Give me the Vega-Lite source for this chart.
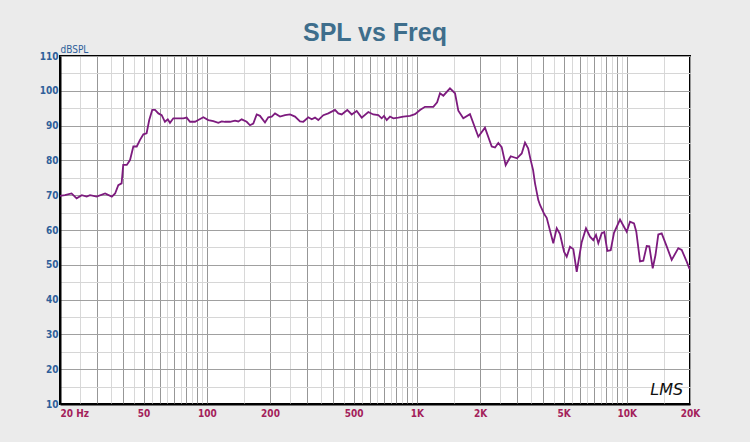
{
  "$schema": "https://vega.github.io/schema/vega-lite/v6.json",
  "width": 630,
  "height": 348,
  "autosize": "none",
  "padding": {"left": 60, "top": 56, "right": 60, "bottom": 38},
  "background": "#ebebeb",
  "title": {
    "text": "SPL vs Freq",
    "font": "Liberation Sans, Arial, sans-serif",
    "fontSize": 25,
    "fontWeight": "bold",
    "color": "#3e6e8c",
    "anchor": "middle",
    "frame": "group",
    "offset": -2
  },
  "config": {
    "view": {"fill": "white", "stroke": "black", "strokeWidth": 2}
  },
  "encoding": {
    "x": {
      "field": "f",
      "type": "quantitative",
      "scale": {"type": "log", "domain": [20, 20000], "nice": false},
      "axis": {
        "title": null,
        "values": [20,25,30,35,40,45,50,55,60,65,70,75,80,85,90,95,100,150,200,250,300,350,400,450,500,550,600,650,700,750,800,850,900,950,1000,1500,2000,2500,3000,3500,4000,4500,5000,5500,6000,6500,7000,7500,8000,8500,9000,9500,10000,15000,20000],
        "ticks": false,
        "domain": true,
        "domainColor": "black",
        "domainWidth": 2,
        "grid": true,
        "gridColor": {"condition": {"test": "datum.value % pow(10, floor(log(datum.value)/LN10 + 1e-9)) == 0", "value": "#979797"}, "value": "#d8d8d8"},
        "gridWidth": 1,
        "labelExpr": "indexof([20,50,100,200,500,1000,2000,5000,10000,20000], datum.value) < 0 ? '' : datum.value == 20 ? '20  Hz' : datum.value >= 1000 ? (datum.value/1000) + 'K' : '' + datum.value",
        "labelAlign": {"condition": {"test": "datum.value <= 20", "value": "left"}, "value": "center"},
        "labelOverlap": false,
        "labelBound": false,
        "labelFlush": false,
        "labelPadding": 4,
        "labelFont": "Liberation Sans Narrow, Arial Narrow, DejaVu Sans Condensed, sans-serif",
        "labelFontSize": 10,
        "labelFontWeight": "bold",
        "labelColor": "#a3215a"
      }
    },
    "y": {
      "field": "db",
      "type": "quantitative",
      "scale": {"domain": [10, 110], "nice": false, "zero": false},
      "axis": {
        "title": "dBSPL",
        "titleAngle": 0,
        "titleAlign": "left",
        "titleBaseline": "alphabetic",
        "titleX": 0,
        "titleY": -4,
        "titleFont": "Liberation Sans Narrow, Arial Narrow, DejaVu Sans Condensed, sans-serif",
        "titleFontSize": 10,
        "titleFontWeight": "normal",
        "titleColor": "#2f5f9a",
        "values": [10,15,20,25,30,35,40,45,50,55,60,65,70,75,80,85,90,95,100,105,110],
        "ticks": false,
        "domain": true,
        "domainColor": "black",
        "domainWidth": 2,
        "grid": true,
        "gridColor": {"condition": {"test": "datum.value % 10 == 0", "value": "#a0a0a0"}, "value": "#d6d6d6"},
        "labelExpr": "datum.value % 10 == 0 ? datum.label : ''",
        "labelOverlap": false,
        "labelBound": false,
        "labelFlush": false,
        "labelPadding": 2,
        "labelFont": "Liberation Sans Narrow, Arial Narrow, DejaVu Sans Condensed, sans-serif",
        "labelFontSize": 10,
        "labelFontWeight": "bold",
        "labelColor": "#2f5f9a"
      }
    }
  },
  "layer": [
    {
      "data": {"values": [
        {"f":20,"db":69.8},{"f":21.1,"db":70.0},{"f":22.7,"db":70.5},{"f":24.0,"db":69.1},{"f":25.4,"db":70.0},{"f":26.8,"db":69.6},{"f":27.8,"db":70.0},{"f":29.9,"db":69.6},{"f":32.8,"db":70.5},{"f":35.3,"db":69.6},{"f":36.6,"db":70.5},{"f":37.9,"db":72.9},{"f":39.3,"db":73.4},{"f":40.0,"db":78.7},{"f":41.6,"db":78.7},{"f":43.1,"db":80.1},{"f":44.7,"db":84.0},{"f":46.4,"db":84.0},{"f":48.1,"db":85.9},{"f":49.9,"db":87.5},{"f":51.7,"db":87.8},{"f":53.2,"db":91.6},{"f":55.0,"db":94.5},{"f":56.7,"db":94.5},{"f":58.8,"db":93.5},{"f":61.0,"db":93.0},{"f":63.2,"db":91.1},{"f":65.2,"db":91.8},{"f":66.8,"db":90.8},{"f":69.3,"db":92.1},{"f":73.2,"db":92.1},{"f":77.3,"db":92.1},{"f":80.2,"db":92.3},{"f":83.2,"db":91.1},{"f":87.9,"db":91.1},{"f":91.1,"db":91.6},{"f":96.3,"db":92.4},{"f":101.7,"db":91.6},{"f":107.4,"db":91.3},{"f":113.5,"db":90.8},{"f":117.8,"db":91.2},{"f":122.1,"db":91.1},{"f":129,"db":91.1},{"f":136.3,"db":91.4},{"f":141.3,"db":91.2},{"f":146.6,"db":91.8},{"f":154.9,"db":91.1},{"f":160.6,"db":90.1},{"f":166.5,"db":90.6},{"f":172.9,"db":93.2},{"f":179.2,"db":92.8},{"f":189.3,"db":90.9},{"f":196.3,"db":92.4},{"f":203.8,"db":92.6},{"f":211.3,"db":93.5},{"f":223.2,"db":92.6},{"f":235.8,"db":93.0},{"f":249.1,"db":93.2},{"f":263.1,"db":92.6},{"f":277.9,"db":91.2},{"f":288.2,"db":91.1},{"f":304.4,"db":92.4},{"f":316,"db":91.8},{"f":327.6,"db":92.3},{"f":339.6,"db":91.6},{"f":358.8,"db":93.0},{"f":379,"db":93.5},{"f":408,"db":94.5},{"f":423,"db":93.5},{"f":439,"db":93.2},{"f":466.8,"db":94.5},{"f":489.8,"db":93.2},{"f":517.5,"db":94.2},{"f":546.7,"db":92.3},{"f":587.7,"db":93.9},{"f":620.8,"db":93.2},{"f":655.8,"db":93.0},{"f":680.6,"db":92.1},{"f":698,"db":92.8},{"f":719,"db":91.6},{"f":745.6,"db":92.6},{"f":773,"db":92.1},{"f":816.6,"db":92.3},{"f":862.6,"db":92.6},{"f":928.3,"db":92.8},{"f":980.8,"db":93.3},{"f":1036,"db":94.5},{"f":1094,"db":95.4},{"f":1199,"db":95.4},{"f":1250,"db":96.7},{"f":1290,"db":99.3},{"f":1338,"db":98.6},{"f":1439,"db":100.7},{"f":1521,"db":99.3},{"f":1577,"db":94.3},{"f":1665,"db":92.1},{"f":1792,"db":93.3},{"f":1963,"db":86.8},{"f":2112,"db":89.4},{"f":2274,"db":84.0},{"f":2358,"db":83.7},{"f":2445,"db":85.0},{"f":2537,"db":83.8},{"f":2650,"db":78.6},{"f":2800,"db":81.2},{"f":3000,"db":80.6},{"f":3160,"db":82.0},{"f":3276,"db":85.1},{"f":3390,"db":83.5},{"f":3480,"db":80.3},{"f":3580,"db":77.2},{"f":3656,"db":73.4},{"f":3790,"db":68.6},{"f":3862,"db":67.2},{"f":4050,"db":64.5},{"f":4156,"db":63.5},{"f":4467,"db":56.2},{"f":4638,"db":60.5},{"f":4808,"db":58.8},{"f":5024,"db":53.8},{"f":5176,"db":52.3},{"f":5366,"db":55.2},{"f":5564,"db":54.5},{"f":5776,"db":48.0},{"f":6100,"db":56.5},{"f":6394,"db":60.5},{"f":6680,"db":58.1},{"f":6926,"db":57.1},{"f":7136,"db":58.6},{"f":7318,"db":56.2},{"f":7596,"db":59.1},{"f":7816,"db":59.4},{"f":8078,"db":54.0},{"f":8384,"db":54.2},{"f":8692,"db":59.2},{"f":9284,"db":63.0},{"f":9988,"db":59.5},{"f":10362,"db":62.4},{"f":10826,"db":61.9},{"f":11100,"db":59.5},{"f":11562,"db":51.0},{"f":11988,"db":51.2},{"f":12442,"db":55.4},{"f":12802,"db":55.3},{"f":13288,"db":49.0},{"f":13700,"db":52.8},{"f":14126,"db":58.7},{"f":14664,"db":59.0},{"f":15490,"db":55.3},{"f":16364,"db":51.4},{"f":17594,"db":54.8},{"f":18258,"db":54.3},{"f":19290,"db":50.9},{"f":19848,"db":49.0},{"f":20000,"db":48.7}
      ]},
      "mark": {"type": "line", "color": "#7d1b7e", "strokeWidth": 1.8, "clip": true}
    },
    {
      "data": {"values": [{"f": 15500, "db": 14, "label": "LMS"}]},
      "mark": {"type": "text", "font": "DejaVu Sans, sans-serif", "fontStyle": "italic", "fontSize": 16, "color": "#111111", "align": "center", "baseline": "middle"},
      "encoding": {"text": {"field": "label"}}
    }
  ]
}
